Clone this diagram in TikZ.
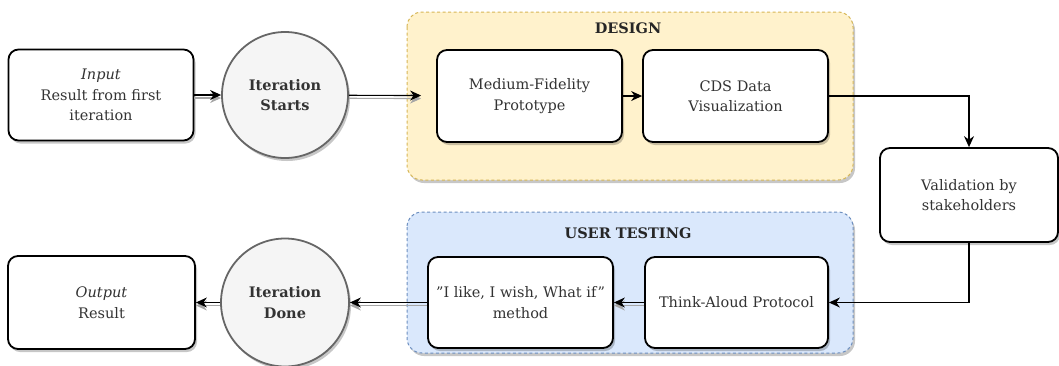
\documentclass[tikz,border=0pt]{standalone}
\usepackage{fontspec}
\setmainfont{DejaVu Serif}
\usetikzlibrary{arrows.meta,shadows}
\definecolor{designfill}{HTML}{FFF2CC}
\definecolor{designline}{HTML}{D6B656}
\definecolor{testfill}{HTML}{DAE8FC}
\definecolor{testline}{HTML}{6C8EBF}
\definecolor{circfill}{HTML}{F5F5F5}
\definecolor{circline}{HTML}{666666}
\tikzset{
  softshadow/.style={drop shadow={shadow xshift=2pt, shadow yshift=-3pt, opacity=0.22, fill=black}},
  txt/.style={font=\fontsize{14.5}{20.5}\selectfont, text=black!80},
  process/.style={draw, line width=1.8pt, rounded corners=10pt, fill=white,
    minimum width=185pt, minimum height=91pt, align=center, txt, softshadow},
  phase/.style={circle, draw=circline, line width=1.8pt, fill=circfill,
    minimum size=126pt, align=center, font=\fontsize{14.5}{20.5}\selectfont\bfseries, text=black!80, softshadow},
  group/.style={draw=#1line, fill=#1fill, dash pattern=on 3pt off 2.5pt, line width=1pt, rounded corners=15pt, softshadow},
  grouptitle/.style={font=\fontsize{14.5}{18}\selectfont\bfseries, text=black!85},
  flow/.style={-{Stealth[length=11pt,width=10pt]}, line width=1.1pt,
    preaction={draw=black!35, line width=1.1pt, -{Stealth[length=11pt,width=10pt]},
      transform canvas={yshift=-3pt}}},
  plainflow/.style={-{Stealth[length=11pt,width=10pt]}, line width=1.1pt}
}
\begin{document}
\begin{tikzpicture}[x=1pt, y=-1pt]
  \useasboundingbox (0,0) rectangle (1059,365);

  % phase containers
  \draw[group=design] (407,12) rectangle (853,180);
  \node[grouptitle] (designtitle) at (628,28) {DESIGN};
  \draw[group=test] (407,212) rectangle (853,353);
  \node[grouptitle] (testtitle) at (628,233) {USER TESTING};

  % top row
  \node[process] (in) at (101,95) {\textit{Input}\\Result from first\\iteration};
  \node[phase] (start) at (285,95) {Iteration\\Starts};
  \node[process, minimum height=92pt] (med) at (529.5,96) {Medium-Fidelity\\Prototype};
  \node[process, minimum height=92pt] (cds) at (735.5,96) {CDS Data\\Visualization};

  % validation step
  \node[process, minimum width=178pt, minimum height=94pt] (val) at (969,195) {Validation by\\stakeholders};

  % bottom row
  \node[process, minimum width=183pt] (think) at (736.5,302.5) {Think-Aloud Protocol};
  \node[process] (like) at (520.5,302.5) {\char34 I like, I wish, What if\char34\\method};
  \node[phase, minimum size=128pt] (done) at (285,302.5) {Iteration\\Done};
  \node[process, minimum width=187pt, minimum height=93pt] (out) at (101.5,302.5) {\textit{Output}\\Result};

  % connectors
  \draw[flow] (in) -- (start);
  \draw[flow, shorten >=15pt] (start) -- (med);
  \draw[plainflow] (med) -- (cds);
  \draw[plainflow] (cds.east) -| (val.north);
  \draw[plainflow] (val.south) |- (think.east);
  \draw[flow] (think) -- (like);
  \draw[flow] (like) -- (done);
  \draw[flow] (done) -- (out);
\end{tikzpicture}
\end{document}
